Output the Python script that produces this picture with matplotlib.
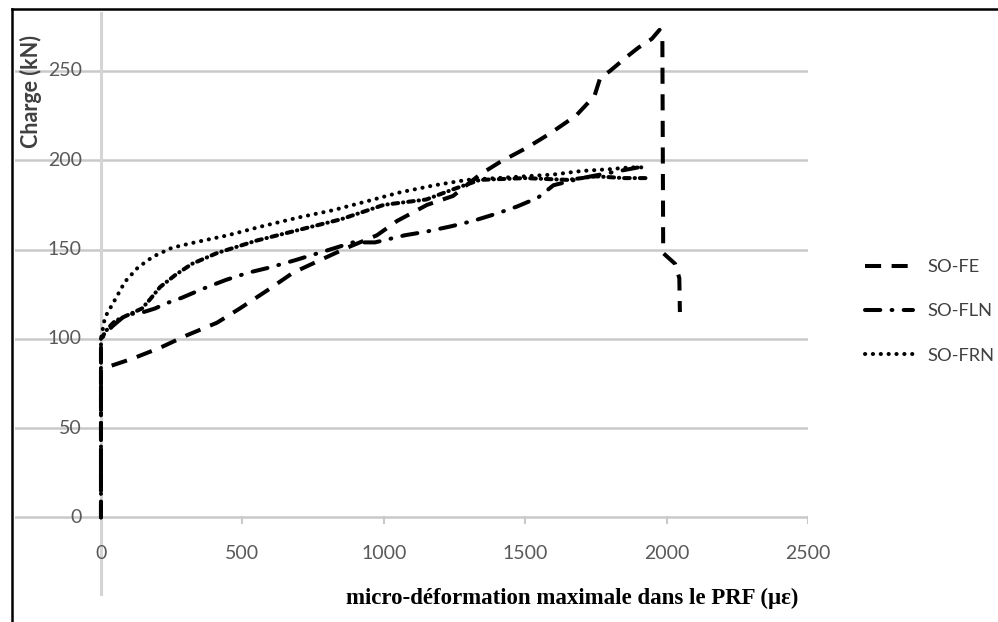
import matplotlib
matplotlib.use("Agg")
import matplotlib.pyplot as plt
from matplotlib.lines import Line2D

# Load-strain curves (strain in micro-strain, load in kN)
so_fe_x = [0, 0, 113, 209, 304, 410, 491, 587, 679, 774, 870, 976, 1047, 1153, 1245,
           1340, 1411, 1506, 1588, 1680, 1745, 1765, 1800, 1860, 1900, 1948, 1975,
           1985, 1988, 2030, 2045, 2047]
so_fe_y = [0, 83, 89, 95, 102, 109, 117, 127, 137, 144, 151, 158, 166, 175, 180,
           192, 199, 207, 215, 225, 236, 246, 250, 258, 263, 268, 273,
           270, 148, 142, 134, 115]

so_fln_x = [0, 0, 40, 92, 131, 191, 233, 286, 360, 442, 520, 598, 686, 810, 891, 969,
            1022, 1075, 1150, 1238, 1315, 1397, 1470, 1545, 1600, 1700, 1800, 1900]
so_fln_y = [0, 100, 107, 114, 114, 117, 120, 123, 128, 133, 137, 140, 144, 150, 154, 154,
            156, 158, 160, 163, 166, 170, 174, 179, 186, 190, 193, 196]

so_frn_x = [0, 0, 14, 50, 85, 131, 184, 251, 332, 449, 569, 700, 820, 940, 1057, 1180,
            1294, 1400, 1500, 1600, 1700, 1800, 1870, 1920]
so_frn_y = [0, 100, 112, 122, 132, 140, 146, 151, 154, 158, 163, 168, 172, 177, 182, 186,
            189, 190, 191, 192, 194, 195, 196, 196]

# Second load path reaching the same plateau (not in the legend)
mid_x = [0, 25, 50, 145, 173, 209, 265, 322, 410, 550, 650, 850, 1000, 1150, 1250, 1340,
         1500, 1650, 1750, 1850, 1930]
mid_y = [100, 106, 110, 117, 122, 129, 136, 142, 148, 155, 159, 167, 175, 178, 184, 189,
         190, 189, 191, 190, 190]

x_ticks = [0, 500, 1000, 1500, 2000, 2500]
y_ticks = [0, 50, 100, 150, 200, 250]
series_labels = ["SO-FE", "SO-FLN", "SO-FRN"]

x_label = "micro-déformation maximale dans le PRF (με)"
y_label = "Charge (kN)"

W, H = 998, 622
fig = plt.figure(figsize=(W / 100, H / 100), dpi=100)
fig.patch.set_facecolor("white")

ax = fig.add_axes([15 / W, 26 / H, 793 / W, 584 / H])
ax.set_xlim(-304, 2500)
ax.set_ylim(-44, 283)
ax.axis("off")

grid_c = "#c9c9c9"
for yv in y_ticks:
    ax.axhline(yv, color=grid_c, lw=1.8, zorder=1)
ax.axvline(0, color="#d4d4d4", lw=2.2, zorder=1)
for xv in x_ticks[1:]:
    ax.plot([xv, xv], [0, -3.2], color=grid_c, lw=1.5, zorder=1)

tick_font = dict(family=["Lato", "DejaVu Sans"], fontsize=14, color="#595959")
for yv in y_ticks:
    ax.text(-68, yv, str(yv), ha="right", va="center", **tick_font)
for xv in x_ticks:
    ax.text(xv, -20, str(xv), ha="center", va="center", **tick_font)

lw = 2.9
ax.plot(so_fe_x, so_fe_y, color="black", lw=lw, dashes=(4.0, 2.6),
        dash_capstyle="butt", label=series_labels[0], zorder=3)
ax.plot(so_fln_x, so_fln_y, color="black", lw=lw, dashes=(3.8, 2.8, 0.2, 2.8),
        dash_capstyle="round", label=series_labels[1], zorder=3)
ax.plot(so_frn_x, so_frn_y, color="black", lw=lw, dashes=(0.05, 1.9),
        dash_capstyle="round", label=series_labels[2], zorder=3)
ax.plot(mid_x, mid_y, color="black", lw=lw, dashes=(1.4, 1.2, 0.1, 1.2),
        dash_capstyle="round", zorder=3, label="_nolegend_")

leg = ax.legend(loc="upper left", bbox_to_anchor=(865 / W, 1 - 259 / H),
                bbox_transform=fig.transFigure, frameon=False,
                prop=dict(family=["Lato", "DejaVu Sans"], size=13.2),
                handlelength=2.6, handletextpad=0.8, labelspacing=1.55,
                borderpad=0, borderaxespad=0)
for t in leg.get_texts():
    t.set_color("#404040")

fig.text(31 / W, 1 - 92 / H, y_label, rotation=90, ha="center", va="center",
         family=["Lato", "DejaVu Sans"], fontweight="bold", fontsize=15.5,
         color="#404040")
fig.text(572 / W, 1 - 598 / H, x_label, ha="center", va="center",
         family=["Liberation Serif", "DejaVu Serif"], fontweight="bold",
         fontsize=16.5, color="black")

# outer frame: left and top edges
fig.add_artist(Line2D([11.5 / W, 11.5 / W], [0, 1 - 9 / H], color="black", lw=1.8,
                      transform=fig.transFigure))
fig.add_artist(Line2D([11.5 / W, 1], [1 - 9 / H, 1 - 9 / H], color="black", lw=1.8,
                      transform=fig.transFigure))

fig.savefig("out.png", dpi=100)
